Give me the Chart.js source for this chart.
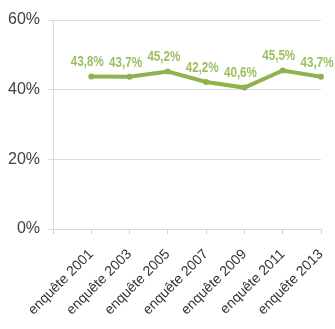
<!DOCTYPE html>
<html><head><meta charset="utf-8">
<script src="https://cdn.jsdelivr.net/npm/chart.js@4/dist/chart.umd.min.js"></script>
<style>html,body{margin:0;padding:0;background:#fff}#wrap{width:335px;height:329px}</style>
</head><body><div id="wrap"><canvas id="c"></canvas></div>
<script>
const categories = ['enquête 2001','enquête 2003','enquête 2005','enquête 2007','enquête 2009','enquête 2011','enquête 2013'];
const values = [43.8, 43.7, 45.2, 42.2, 40.6, 45.5, 43.7];
const yTicks = [0, 20, 40, 60];

const GREEN = '#8db24e';
const LABEL_GREEN = '#9cc061';

const labels = [''].concat(categories);
const data = [null].concat(values);

const valueLabels = {
  id: 'valueLabels',
  afterDatasetsDraw(chart) {
    const ctx = chart.ctx;
    const meta = chart.getDatasetMeta(0);
    meta.data.forEach((pt, i) => {
      const v = data[i];
      if (v === null) return;
      ctx.save();
      ctx.font = 'bold 14px "Liberation Sans", Arial, sans-serif';
      ctx.fillStyle = LABEL_GREEN;
      ctx.textAlign = 'center';
      ctx.textBaseline = 'bottom';
      ctx.translate(pt.x - 4, pt.y - 7);
      ctx.scale(0.83, 1);
      ctx.fillText(v.toFixed(1).replace('.', ',') + '%', 0, 0);
      ctx.restore();
    });
  }
};

new Chart(document.getElementById('c'), {
  type: 'line',
  data: {
    labels: labels,
    datasets: [{
      data: data,
      borderColor: GREEN,
      backgroundColor: GREEN,
      borderWidth: 4,
      pointRadius: 3,
      pointBorderWidth: 0,
      tension: 0,
      spanGaps: false
    }]
  },
  options: {
    responsive: true,
    maintainAspectRatio: false,
    animation: false,
    layout: { padding: { top: 20, right: 14, left: 0, bottom: 0 } },
    plugins: { legend: { display: false }, tooltip: { enabled: false } },
    scales: {
      x: {
        type: 'category',
        offset: false,
        grid: { display: true, drawOnChartArea: false, color: '#d0d0d0', tickLength: 5 },
        border: { display: true, color: '#d9d9d9' },
        ticks: {
          autoSkip: false,
          maxRotation: 45,
          minRotation: 45,
          padding: 12,
          color: '#333333',
          font: { family: '"Liberation Sans", Arial, sans-serif', size: 14 }
        },
        afterFit(scale) { scale.height = 100; scale.paddingLeft = 0; scale.paddingRight = 0; }
      },
      y: {
        min: 0,
        max: 60,
        afterBuildTicks(scale) { scale.ticks = yTicks.map(v => ({ value: v })); },
        grid: { color: '#dcdcdc', tickLength: 5 },
        border: { display: true, color: '#dcdcdc' },
        ticks: {
          padding: 8,
          color: '#404040',
          font: { family: '"Liberation Sans", Arial, sans-serif', size: 16 },
          callback: v => v + '%'
        },
        afterFit(scale) { scale.width = 53; scale.paddingTop = 0; scale.paddingBottom = 0; }
      }
    }
  },
  plugins: [valueLabels]
});
</script>
</body></html>
